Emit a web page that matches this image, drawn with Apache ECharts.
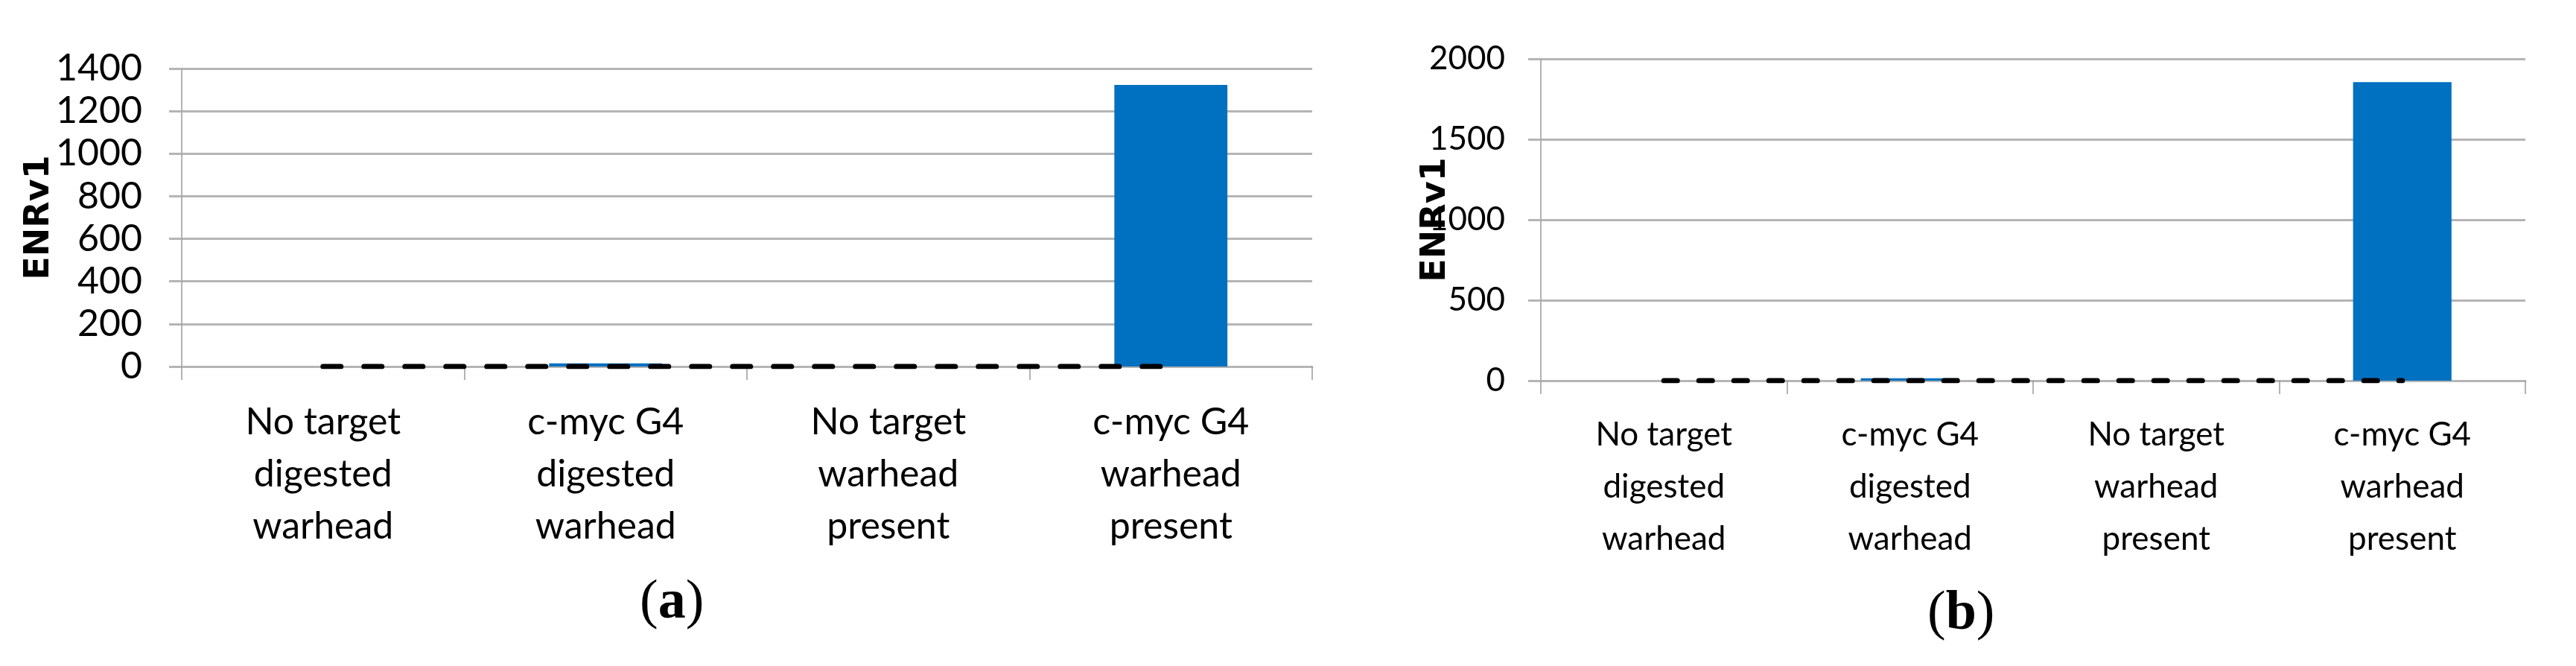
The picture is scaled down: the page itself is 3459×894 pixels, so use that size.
<!DOCTYPE html>
<html>
<head>
<meta charset="utf-8">
<script src="https://cdn.jsdelivr.net/npm/echarts@6/dist/echarts.min.js"></script>
<style>
html,body{margin:0;padding:0;background:#fff;}
#chart{width:3459px;height:894px;}
</style>
</head>
<body>
<div id="chart"></div>
<script>
// ---- data ----
const categories = [
  'No target\ndigested\nwarhead',
  'c-myc G4\ndigested\nwarhead',
  'No target\nwarhead\npresent',
  'c-myc G4\nwarhead\npresent'
];
const enrA = [0, 15, 0, 1323];      // panel (a)
const enrB = [0, 15, 0, 1855];      // panel (b)
const baselineA = [0, 0, 0, 0];     // dashed reference line (a)
const baselineB = [0, 0, 0, 0];     // dashed reference line (b)
const yMaxA = 1400, yStepA = 200;
const yMaxB = 2000, yStepB = 500;
const yTitle = 'ENRv1';
const panelLabels = ['a', 'b'];

// ---- styles ----
const gridGray = '#b5b5b5';
const axisGray = '#9a9a9a';
const barBlue = '#0070c0';
const labelFont = 'Lato';

function xAxisFor(gridIndex, fontSize, margin) {
  return {
    type: 'category', gridIndex: gridIndex, data: categories,
    boundaryGap: true,
    axisLine: { show: true, lineStyle: { color: gridGray, width: 3 } },
    axisTick: { show: true, alignWithLabel: false, length: 18, lineStyle: { color: axisGray, width: 1.5 } },
    axisLabel: { interval: 0, margin: margin, color: '#000', fontFamily: labelFont, fontSize: fontSize, lineHeight: 70, align: 'center' },
    splitLine: { show: false }
  };
}
function yAxisFor(gridIndex, max, step, fontSize, margin, nameGap) {
  return {
    type: 'value', gridIndex: gridIndex, min: 0, max: max, interval: step,
    name: yTitle, nameLocation: 'middle', nameGap: nameGap, nameMoveOverlap: false,
    nameTextStyle: { fontFamily: 'DejaVu Sans', fontWeight: 'bold', fontSize: 46, color: '#000' },
    axisLine: { show: true, lineStyle: { color: axisGray, width: 1.5 } },
    axisTick: { show: true, length: 17, lineStyle: { color: gridGray, width: 3 } },
    axisLabel: { margin: margin, color: '#000', fontFamily: labelFont, fontSize: fontSize,
      formatter: function (v) { return String(v); } },
    splitLine: { show: true, lineStyle: { color: gridGray, width: 3 } }
  };
}

const chart = echarts.init(document.getElementById('chart'), null, { renderer: 'canvas' });
chart.setOption({
  backgroundColor: '#ffffff',
  animation: false,
  grid: [
    { left: 244, top: 92, width: 1518, height: 400, containLabel: false },
    { left: 2069, top: 79, width: 1322, height: 432, containLabel: false }
  ],
  xAxis: [ xAxisFor(0, 50, 40), xAxisFor(1, 44, 38) ],
  yAxis: [ yAxisFor(0, yMaxA, yStepA, 50, 53, 168), yAxisFor(1, yMaxB, yStepB, 44, 48, 118) ],
  series: [
    { type: 'bar', xAxisIndex: 0, yAxisIndex: 0, data: enrA, barWidth: '40%',
      itemStyle: { color: barBlue } },
    { type: 'line', xAxisIndex: 0, yAxisIndex: 0, data: baselineA, symbol: 'none', z: 5,
      lineStyle: { color: '#000', width: 7, type: [24, 31], cap: 'round' } },
    { type: 'bar', xAxisIndex: 1, yAxisIndex: 1, data: enrB, barWidth: '40%',
      itemStyle: { color: barBlue } },
    { type: 'line', xAxisIndex: 1, yAxisIndex: 1, data: baselineB, symbol: 'none', z: 5,
      lineStyle: { color: '#000', width: 7, type: [18, 29], cap: 'round' } }
  ],
  graphic: [
    { type: 'text', left: 901 - 42, top: 813 - 40,
      style: { text: '({b|' + panelLabels[0] + '})', font: '74px "Liberation Serif"', fill: '#000',
        rich: { b: { fontFamily: 'Liberation Serif', fontWeight: 'bold', fontSize: 74 } } } },
    { type: 'text', left: 2634 - 46, top: 828 - 40,
      style: { text: '({b|' + panelLabels[1] + '})', font: '74px "Liberation Serif"', fill: '#000',
        rich: { b: { fontFamily: 'Liberation Serif', fontWeight: 'bold', fontSize: 74 } } } }
  ]
});
</script>
</body>
</html>
